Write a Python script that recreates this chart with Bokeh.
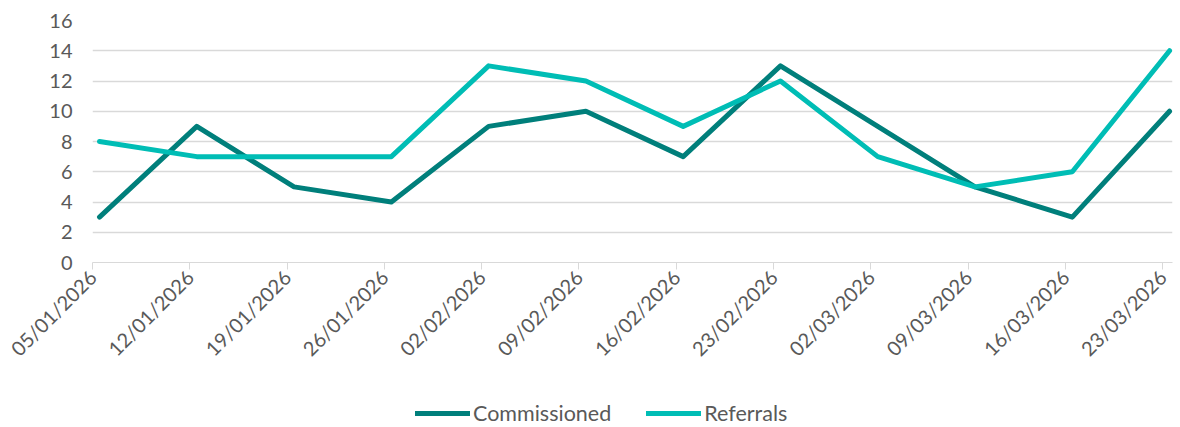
import math
from bokeh.plotting import figure
from bokeh.layouts import column
from bokeh.models import (Range1d, FixedTicker, CustomJSTickFormatter, Legend, LegendItem, ColumnDataSource)
from bokeh.embed import file_html
from bokeh.resources import INLINE

dates = ["05/01/2026", "12/01/2026", "19/01/2026", "26/01/2026", "02/02/2026", "09/02/2026",
         "16/02/2026", "23/02/2026", "02/03/2026", "09/03/2026", "16/03/2026", "23/03/2026"]
commissioned = [3, 9, 5, 4, 9, 10, 7, 13, 9, 5, 3, 10]
referrals = [8, 7, 7, 7, 13, 12, 9, 12, 7, 5, 6, 14]
y_ticks = [0, 2, 4, 6, 8, 10, 12, 14, 16]
series_names = ["Commissioned", "Referrals"]

FONT = "Lato"
GREY = "#595959"
GRID = "#d9d9d9"
C_DARK = "#007f7b"
C_LIGHT = "#00bdb5"

xs = list(range(len(dates)))
src = ColumnDataSource(dict(x=xs, c=commissioned, r=referrals))

LEG_H = 34
p = figure(width=1180, height=427 - LEG_H, output_backend="svg", toolbar_location=None,
           x_range=Range1d(-0.072, len(dates) - 1 + 0.03), y_range=Range1d(0, 16),
           min_border_left=92, min_border_right=8, min_border_top=20, min_border_bottom=165 - LEG_H)
p.outline_line_color = None
p.background_fill_color = None
p.border_fill_color = "white"

p.line("x", "c", source=src, line_color=C_DARK, line_width=5, line_cap="round", line_join="round")
p.line("x", "r", source=src, line_color=C_LIGHT, line_width=5, line_cap="round", line_join="round")

# x axis
off = 0.072
p.xaxis.ticker = FixedTicker(ticks=[i - off for i in xs])
p.xaxis.formatter = CustomJSTickFormatter(args=dict(labels=dates, off=off),
                                          code="return labels[Math.round(tick + off)] || '';")
p.xaxis.major_label_orientation = math.pi / 4
p.xaxis.axis_line_color = GRID
p.xaxis.major_tick_line_color = GRID
p.xaxis.major_tick_out = 7
p.xaxis.major_tick_in = 0
p.xaxis.minor_tick_line_color = None
p.xaxis.major_label_text_font = FONT
p.xaxis.major_label_text_font_size = "20px"
p.xaxis.major_label_text_color = GREY
p.xaxis.major_label_standoff = 4
p.xgrid.grid_line_color = None

# y axis
p.yaxis.ticker = FixedTicker(ticks=y_ticks)
p.yaxis.axis_line_color = None
p.yaxis.major_tick_line_color = None
p.yaxis.minor_tick_line_color = None
p.yaxis.major_label_text_font = FONT
p.yaxis.major_label_text_font_size = "20px"
p.yaxis.major_label_text_color = GREY
p.yaxis.major_label_standoff = 14
p.ygrid.grid_line_color = GRID
p.ygrid.grid_line_width = 1.5

# legend strip: same series, drawn outside its view so only the legend shows
q = figure(width=1180, height=LEG_H, output_backend="svg", toolbar_location=None,
           x_range=Range1d(-0.072, len(dates) - 1 + 0.03), y_range=Range1d(100, 101),
           x_axis_location=None, y_axis_location=None,
           min_border_left=0, min_border_right=0, min_border_top=0, min_border_bottom=0)
q.outline_line_color = None
q.background_fill_color = None
q.border_fill_color = "white"
q.grid.grid_line_color = None
lr1 = q.line("x", "c", source=src, line_color=C_DARK, line_width=5, line_cap="round")
lr2 = q.line("x", "r", source=src, line_color=C_LIGHT, line_width=5, line_cap="round")

legend = Legend(items=[LegendItem(label=series_names[0], renderers=[lr1]),
                       LegendItem(label=series_names[1], renderers=[lr2])],
                orientation="horizontal", location=(323, 1))
legend.border_line_color = None
legend.background_fill_alpha = 0
legend.label_text_font = FONT
legend.label_text_font_size = "21.5px"
legend.label_text_color = GREY
legend.label_height = 16
legend.glyph_height = 16
legend.glyph_width = 55
legend.label_standoff = 3
legend.spacing = 35
legend.padding = 0
legend.margin = 0
q.add_layout(legend)

layout = column(p, q, spacing=0)
open("out.html", "w").write(file_html(layout, INLINE))
